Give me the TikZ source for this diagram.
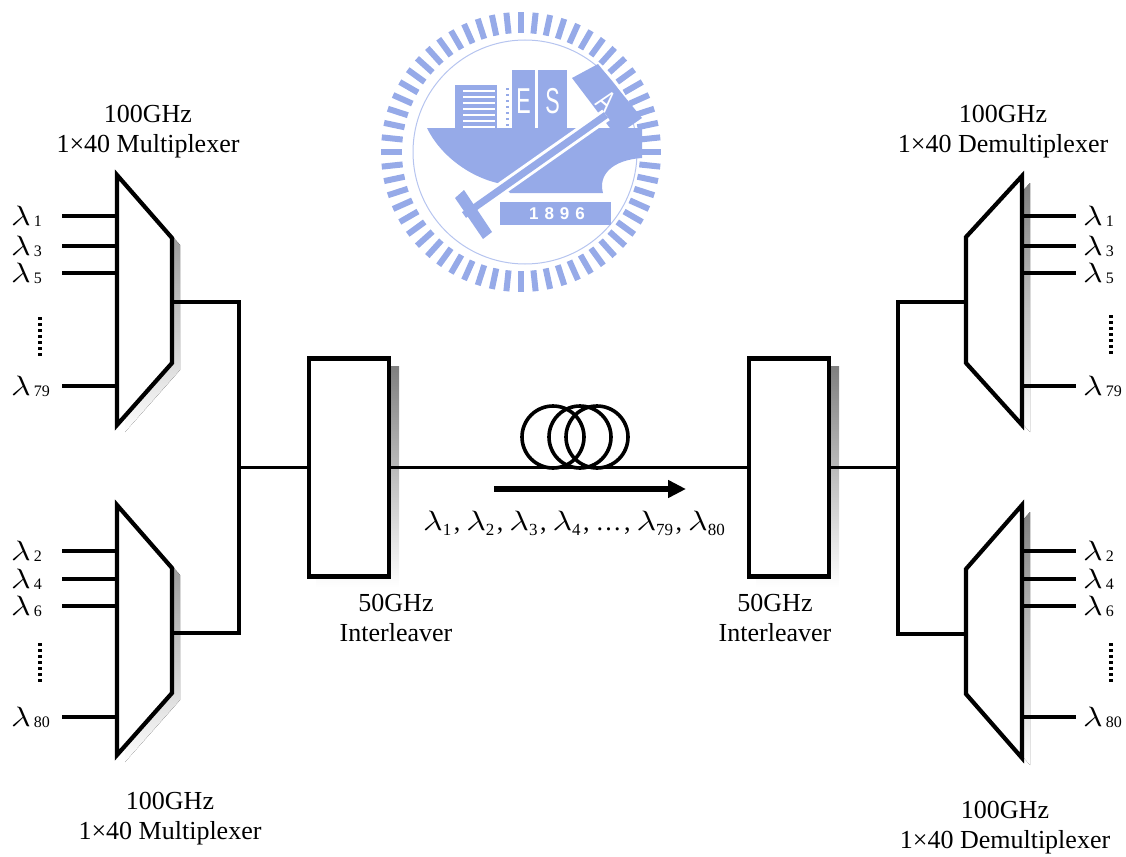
\documentclass[tikz,border=0pt]{standalone}
\usepackage{fontspec}
\setmainfont{Liberation Serif}
\setsansfont{Liberation Sans}
\usepackage{graphicx}
\usetikzlibrary{arrows.meta}

\definecolor{logoblue}{RGB}{150,170,232}
\definecolor{shade}{RGB}{192,192,192}

% wavelength labels
\newcommand{\lamglyph}{{\fontsize{10}{10}\selectfont\scalebox{3.36}[2.8]{$\lambda$}}}
\newcommand{\lamside}[1]{\lamglyph\hspace{3pt}{\fontsize{16}{16}\selectfont\raisebox{-1pt}{#1}}}
\newcommand{\lamseq}[1]{\lamglyph{\fontsize{17}{17}\selectfont\raisebox{-5pt}{#1}}}
\newcommand{\sep}{\hspace{2.5pt}{\fontsize{26}{26}\selectfont,}\hspace{6pt}}

\begin{document}
\begin{tikzpicture}[x=1pt,y=-1pt,
  unit/.style={line width=4.2pt, line join=miter, fill=white},
  wire/.style={line width=3.6pt},
  dotcol/.style={line width=3.8pt, dash pattern=on 3pt off 3pt},
  title/.style={font=\fontsize{26}{30}\selectfont, align=center},
  lamlbl/.style={inner sep=0pt, anchor=base west},
  ilbox/.style={draw, line width=4.2pt, fill=white, minimum width=80pt, minimum height=218pt, inner sep=0pt}
]
\useasboundingbox (0,0) rectangle (1126,856);

% ---------------- emblem ----------------
\begin{scope}[shift={(521,152)}]
  \foreach \a in {0,6,...,354}
    \fill[logoblue, rotate=\a] (-3,119) rectangle (3,140);
\end{scope}
\draw[logoblue!70, line width=1pt] (525,152) circle (112);
% hull
\fill[logoblue] (427,128) -- (642,128) -- (642,158) .. controls (612,160) and (598,175) .. (603,193)
  -- (510,193) -- (502,184) .. controls (470,178) and (440,155) .. (427,128) -- cycle;
% deck blocks
\fill[logoblue] (455,85) rectangle (497,130);
\foreach \y in {91,97,...,127} \draw[white, line width=1.6pt] (463,\y) -- (495,\y);
\foreach \y in {88,94,...,124} \fill[logoblue] (506,\y) rectangle (509,\y+2);
\fill[logoblue] (512,70) rectangle (535,130);
\fill[logoblue] (538,70) rectangle (567,130);
\node[text=white, font=\sffamily\fontsize{36}{36}\selectfont] at (523.5,101) {\scalebox{0.6}[1]{E}};
\node[text=white, font=\sffamily\fontsize{36}{36}\selectfont] at (552.5,101) {\scalebox{0.6}[1]{S}};
\fill[logoblue] (572,78) -- (598,64) -- (642,118) -- (616,136) -- cycle;
\node[text=white, rotate=-40, font=\sffamily\fontsize{30}{30}\selectfont] at (606,101) {\scalebox{0.7}[1]{A}};
% ruler across the hull
\draw[white, line width=13pt] (468,212) -- (606,115);
\draw[logoblue, line width=7pt] (464,215) -- (606,115);
\fill[logoblue] (455,198) -- (464,190) -- (492,232) -- (483,239) -- cycle;
% year plate
\fill[logoblue] (500,202) rectangle (611,225);
\node[text=white, font=\sffamily\bfseries\fontsize{17}{17}\selectfont] at (557,213.5) {1\hspace{6pt}8\hspace{6pt}9\hspace{6pt}6};

% ---------------- titles ----------------
\node[title] (tmuxA) at (148,132) {100GHz\\1×40 Multiplexer};
\node[title] (tmuxB) at (170,819) {100GHz\\1×40 Multiplexer};
\node[title] (tdemA) at (1003,132) {100GHz\\1×40 Demultiplexer};
\node[title] (tdemB) at (1005,828) {100GHz\\1×40 Demultiplexer};
\node[title] (tilL) at (396,618) {50GHz\\Interleaver};
\node[title] (tilR) at (775,618) {50GHz\\Interleaver};

% ---------------- multiplexers (left) ----------------
\fill[shade, shift={(8,7)}] (117,175) -- (172,238) -- (172,363) -- (117,425) -- cycle;
\draw[unit] (117,175) -- (172,238) -- (172,363) -- (117,425) -- cycle;
\fill[shade, shift={(8,7)}] (117,505) -- (172,568) -- (172,693) -- (117,755) -- cycle;
\draw[unit] (117,505) -- (172,568) -- (172,693) -- (117,755) -- cycle;

\coordinate (muxA-out) at (172,302);
\coordinate (muxB-out) at (172,633);
\coordinate (busL-top) at (239,302);
\coordinate (busL-bot) at (239,633);

\foreach \n/\y in {1/216,3/246,5/273,79/386,2/551,4/579,6/606,80/717}{
  \coordinate (in\n) at (62,\y);
  \coordinate (inE\n) at (117,\y);
  \draw[wire] (in\n) -- (inE\n);
  \node[lamlbl] (lamL\n) at (11,\y+9) {\lamside{\n}};
}
\draw[dotcol] (40,317) -- (40,358);
\draw[dotcol] (40,643) -- (40,684);

% ---------------- demultiplexers (right) ----------------
\fill[shade, shift={(8,7)}] (1022,176) -- (966,237) -- (966,363) -- (1022,425) -- cycle;
\draw[unit] (1022,176) -- (966,237) -- (966,363) -- (1022,425) -- cycle;
\fill[shade, shift={(8,7)}] (1022,505) -- (966,569) -- (966,694) -- (1022,758) -- cycle;
\draw[unit] (1022,505) -- (966,569) -- (966,694) -- (1022,758) -- cycle;

\coordinate (demA-in) at (966,302);
\coordinate (demB-in) at (966,634);
\coordinate (busR-top) at (898,302);
\coordinate (busR-bot) at (898,634);

\foreach \n/\y in {1/216,3/246,5/273,79/386,2/551,4/579,6/606,80/717}{
  \coordinate (out\n) at (1076,\y);
  \coordinate (outE\n) at (1022,\y);
  \draw[wire] (outE\n) -- (out\n);
  \node[lamlbl] (lamR\n) at (1083,\y+9) {\lamside{\n}};
}
\draw[dotcol] (1111,315) -- (1111,356);
\draw[dotcol] (1111,643) -- (1111,684);

% ---------------- interleavers ----------------
\fill[shade] (316,366) rectangle (399,587);
\node[ilbox] (ilL) at (349,467.5) {};
\fill[shade] (756,366) rectangle (839,587);
\node[ilbox] (ilR) at (789,467.5) {};

% ---------------- connections ----------------
\draw[wire] (muxA-out) -- (busL-top) -- (busL-bot) -- (muxB-out);
\draw[wire] (ilL.west -| busL-top) -- (ilL.west);
\draw[wire] (demA-in) -- (busR-top) -- (busR-bot) -- (demB-in);
\draw[wire] (ilR.east) -- (ilR.east -| busR-top);
\draw[wire] (ilL.east) -- (ilR.west);

% fibre spool
\draw[wire] (553,437) circle (31);
\draw[wire] (580,437) circle (31);
\draw[wire] (597,437) circle (31);

% propagation direction
\coordinate (arrS) at (494,489);
\coordinate (arrE) at (686,489);
\draw[line width=5.5pt, -{Triangle[length=18pt,width=17pt]}] (arrS) -- (arrE);
\node[inner sep=0pt, anchor=base west] (seq) at (423,530)
  {\lamseq{1}\sep\lamseq{2}\sep\lamseq{3}\sep\lamseq{4}\sep{\fontsize{26}{26}\selectfont\ldots}\sep\lamseq{79}\sep\lamseq{80}};
\end{tikzpicture}
\end{document}
